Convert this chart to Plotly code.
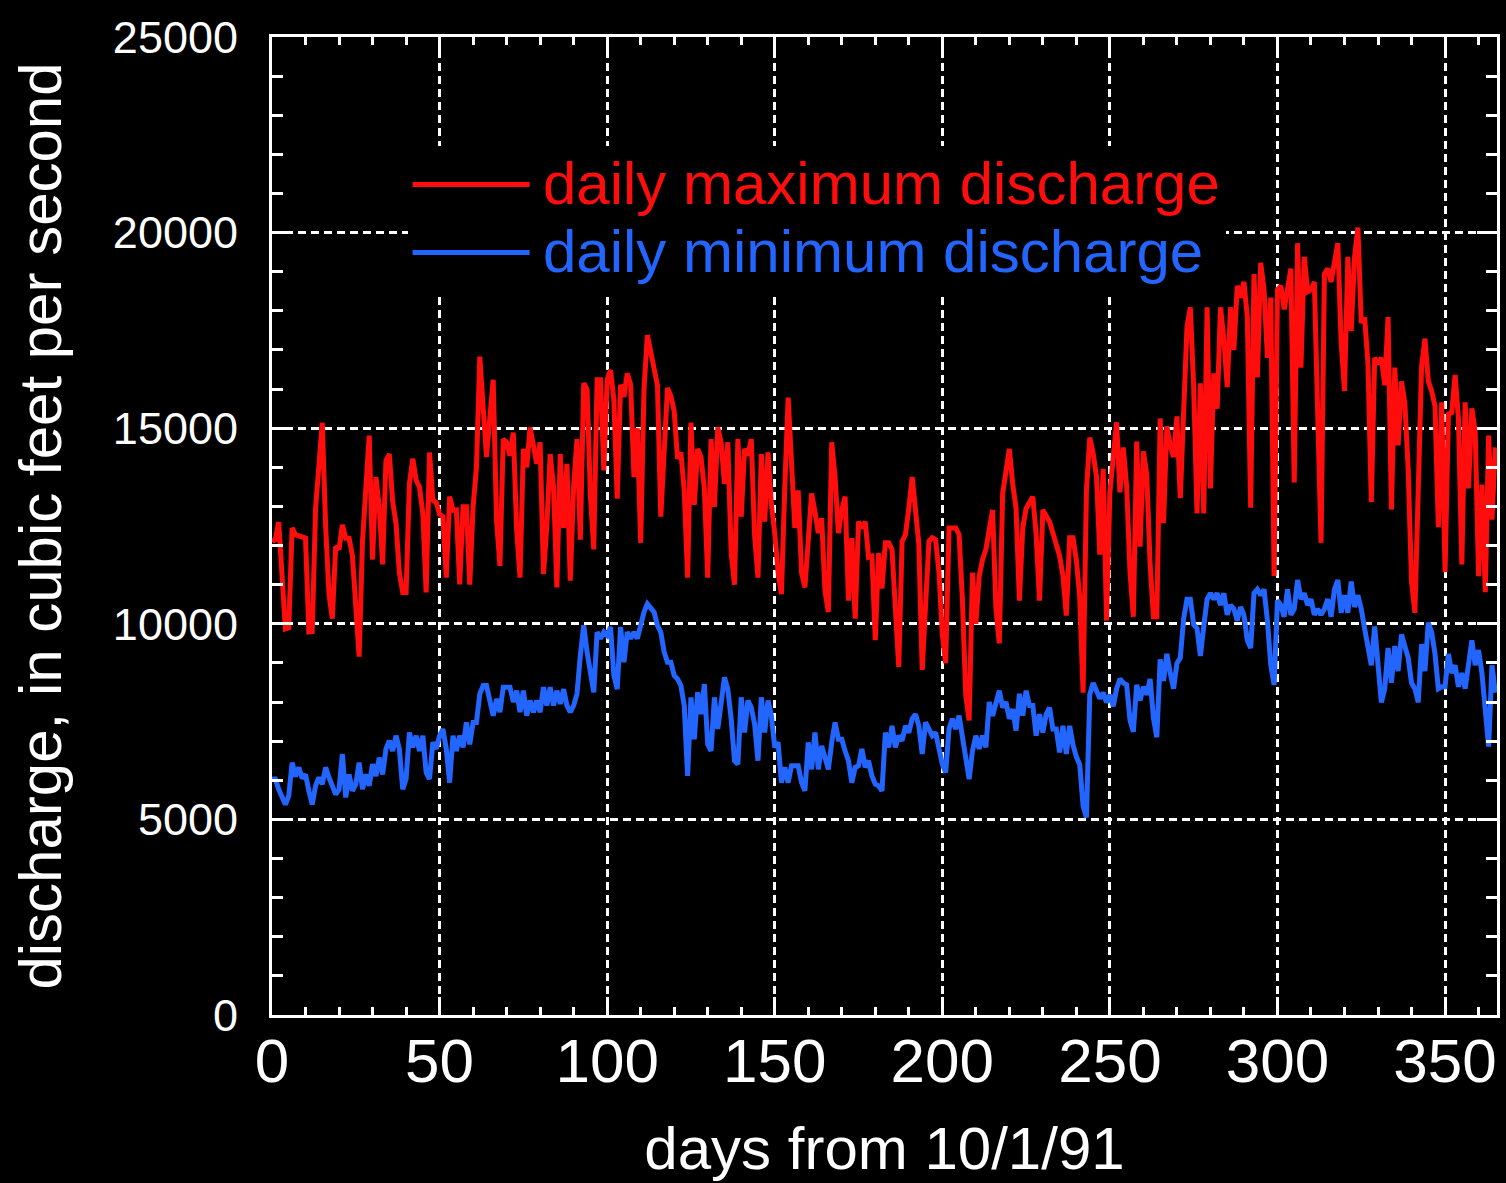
import plotly.graph_objects as go

# ---------------- data ----------------
days = list(range(366))

max_discharge = [
    12110, 12150, 12600, 11000, 9870, 9900, 12450, 12280, 12250, 12190,
    12190, 9790, 9800, 12950, 13920, 15140, 12500, 10760, 10130, 11980,
    11900, 12530, 12190, 12190, 11730, 10380, 9160, 12110, 13420, 14810,
    11640, 13750, 13000, 11520, 14170, 14340, 13120, 12570, 11310, 10800,
    10800, 13580, 14220, 13670, 13500, 12820, 10800, 14380, 13160, 13100,
    12800, 12740, 11180, 13250, 12900, 12910, 11010, 12990, 12990, 11000,
    12990, 14000, 16830, 15600, 14260, 15270, 16240, 12650, 11480, 14720,
    14640, 14300, 14890, 12400, 11180, 14470, 14000, 15020, 14600, 14090,
    14640, 11270, 12500, 14340, 13500, 10930, 14340, 12450, 14090, 11100,
    13500, 14720, 12150, 16150, 16000, 13290, 11900, 16240, 16240, 13920,
    16240, 16490, 15730, 13200, 16110, 15800, 16400, 16110, 13750, 15000,
    12070, 16000, 17380, 17000, 16500, 16100, 12740, 14550, 16030, 15820,
    15440, 14220, 14380, 13410, 11180, 15140, 13040, 14470, 14260, 13460,
    11180, 14720, 12990, 15020, 14640, 13580, 14640, 11810, 11000, 14720,
    12740, 14470, 14300, 14720, 12240, 11180, 14340, 12610, 14380, 13040,
    12320, 11310, 10760, 13500, 15780, 14130, 12450, 13410, 11310, 10930,
    12200, 13330, 12870, 12320, 12700, 10840, 10300, 14640, 13750, 12320,
    12910, 13250, 10590, 12190, 10130, 12610, 12450, 12610, 11700, 11730,
    9580, 11810, 10900, 12070, 12070, 11900, 10380, 8900, 12110, 12280,
    12950, 13750, 12910, 12030, 8820, 10380, 12110, 12200, 12150, 11310,
    9730, 8990, 12450, 12450, 12450, 12280, 10610, 8160, 7530, 11310,
    10000, 11220, 11640, 11900, 12360, 12910, 10380, 9500, 13330, 13840,
    14470, 13580, 12950, 10590, 12450, 12950, 13120, 13250, 12280, 10590,
    12910, 12740, 12610, 12320, 12070, 11730, 11220, 10210, 12200, 12200,
    11620, 10680, 8240, 13410, 14760, 14360, 13760, 11770, 13960, 10080,
    13360, 14360, 15150, 13360, 14510, 13510, 11320, 10180, 14660, 11970,
    14410, 13810, 11520, 10180, 10180, 15250, 12570, 15050, 14560, 14260,
    15300, 13210, 15850, 17590, 18090, 16050, 12820, 16150, 12820, 18090,
    13460, 16400, 15500, 18090, 17290, 16050, 18090, 17000, 18640, 18340,
    18740, 17840, 12970, 18940, 16300, 19230, 18540, 16800, 18340, 11220,
    18540, 18640, 18040, 18590, 19080, 13610, 19730, 16550, 19380, 18490,
    18540, 18740, 15130, 12070, 18940, 19080, 18740, 19330, 19730, 17190,
    15950, 19380, 17490, 19380, 20130, 17690, 17840, 16650, 13110, 16800,
    16650, 16800, 16100, 17840, 12920, 16550, 14560, 16200, 15650, 13960,
    11070, 10280, 14090, 16580, 17290, 16200, 15950, 15560, 12470, 15660,
    11320, 15360, 15400, 16360, 15230, 11520, 15660, 13460, 15510, 14910,
    11220, 13560, 10810, 14810, 12660, 14510,
]

min_discharge = [
    6030, 6030, 5770, 5560, 5380, 5600, 6450, 6100, 6330, 6050,
    6150, 5730, 5380, 5860, 6070, 5900, 6330, 6070, 5860, 5640,
    5770, 6670, 5560, 6150, 5730, 5900, 6450, 5770, 6150, 5860,
    6410, 6110, 6580, 6150, 6800, 7010, 6750, 7140, 6800, 5770,
    6030, 7220, 6840, 7140, 6750, 7140, 6200, 6030, 6970, 6800,
    7140, 7310, 6800, 5940, 7140, 6750, 7140, 6840, 7480, 6920,
    7480, 7480, 8210, 8420, 8420, 8080, 7650, 8080, 7740, 8380,
    8380, 8380, 8000, 8290, 7740, 8290, 7650, 8040, 7740, 8040,
    7740, 8380, 7910, 8380, 7910, 8290, 7950, 8330, 7910, 7740,
    7910, 8210, 9190, 9960, 9280, 8680, 8250, 9790, 9620, 9790,
    9700, 9920, 8680, 8330, 9920, 9020, 9790, 9620, 9790, 9620,
    9960, 10300, 10510, 10400, 10300, 9960, 9790, 9280, 9020, 9020,
    8680, 8590, 8420, 7910, 6110, 8120, 7050, 8250, 7690, 8460,
    6920, 6750, 8120, 7310, 8080, 8630, 8330, 7570, 6500, 6410,
    8120, 7220, 8040, 7860, 7430, 6500, 8120, 7220, 8040, 7650,
    6840, 6970, 5940, 6330, 5940, 6370, 6370, 6370, 5940, 5730,
    6970, 6280, 7220, 6280, 6880, 6620, 6280, 6970, 7480, 7050,
    7050, 6750, 6500, 5940, 6330, 6370, 6800, 6330, 6500, 6110,
    5900, 5860, 5730, 7220, 6840, 7390, 6840, 7140, 7010, 7390,
    7220, 7570, 7690, 7390, 6670, 7480, 7310, 7140, 7220, 6800,
    6410, 6200, 7310, 7570, 7310, 7650, 7140, 6580, 6030, 6750,
    7140, 6800, 7140, 6840, 8000, 7650, 8040, 8290, 7860, 8000,
    7570, 7820, 7270, 8210, 7650, 8290, 7910, 7910, 7140, 7690,
    7220, 7690, 7860, 7310, 7310, 6710, 7390, 6670, 7390, 6900,
    6600, 6400, 5350, 5050, 8190, 8490, 8290, 8090, 8240, 7990,
    8190, 7890, 8340, 8590, 8490, 8440, 7540, 7240, 8440, 8040,
    8390, 8190, 8590, 7590, 7100, 9090, 8540, 9230, 8740, 8340,
    8990, 9130, 10130, 10630, 10630, 9980, 9880, 9180, 9930, 10630,
    10780, 10630, 10780, 10480, 10780, 10230, 10480, 10380, 10080, 10430,
    10230, 9580, 9380, 10780, 10880, 10730, 10880, 10080, 8940, 8440,
    10600, 10480, 10180, 10880, 10230, 10380, 11120, 10630, 10780, 10480,
    10630, 10230, 10380, 10230, 10380, 10630, 10180, 10880, 11120, 10280,
    10730, 10280, 11080, 10430, 10730, 10380, 9880, 9380, 8940, 9930,
    8790, 7990, 8340, 9380, 8490, 9430, 8790, 9730, 9430, 9130,
    8490, 8340, 7990, 9480, 8790, 10030, 9780, 9230, 8340, 8390,
    8390, 9230, 8740, 8940, 8390, 8740, 8340, 9030, 9580, 8940,
    9330, 8740, 7840, 6860, 8940, 8240,
]

x_tick_vals = [0, 50, 100, 150, 200, 250, 300, 350]
x_tick_labels = ["0", "50", "100", "150", "200", "250", "300", "350"]
y_tick_vals = [0, 5000, 10000, 15000, 20000, 25000]
y_tick_labels = ["0", "5000", "10000", "15000", "20000", "25000"]

series_names = ["daily maximum discharge", "daily minimum discharge"]
series_colors = ["#ff0d0d", "#2266ff"]

assert len(max_discharge) == len(days) == len(min_discharge)

# ---------------- figure ----------------
FONT = "Liberation Sans, Arial, sans-serif"

fig = go.Figure()
for vals, name, color in zip([max_discharge, min_discharge], series_names, series_colors):
    fig.add_trace(go.Scatter(
        x=days, y=vals, mode="lines",
        name=(f'<span style="font-size:30px">&nbsp;</span>'
              f'<span style="color:{color};font-size:60px">{name}</span>'),
        line=dict(color=color, width=5),
    ))

axis_common = dict(
    showline=True, linecolor="white", linewidth=3, mirror="allticks",
    ticks="inside", tickcolor="white", tickwidth=3,
    showgrid=True, gridcolor="white", gridwidth=2.5, griddash="8px,5px",
    zeroline=False,
)

fig.update_layout(
    width=1506, height=1183,
    paper_bgcolor="black", plot_bgcolor="black",
    margin=dict(l=272, r=6, t=37, b=168),
    font=dict(family=FONT, color="white"),
    showlegend=True,
    legend=dict(
        x=0.1107, y=0.889, xanchor="left", yanchor="top",
        bgcolor="black", borderwidth=0,
        font=dict(family=FONT, size=50, color="white"),
        itemwidth=117, tracegroupgap=0,
    ),
    xaxis=dict(
        range=[0, 365.5],
        tickmode="array", tickvals=x_tick_vals, ticktext=x_tick_labels,
        ticklen=18,
        tickfont=dict(family=FONT, size=62, color="white"),
        ticklabelstandoff=-10,
        minor=dict(tick0=0, dtick=10, ticks="inside", ticklen=8,
                   tickwidth=3, tickcolor="white", showgrid=False),
        title=dict(text="days from 10/1/91",
                   font=dict(family=FONT, size=60, color="white"),
                   standoff=33),
        **axis_common,
    ),
    yaxis=dict(
        range=[0, 25000],
        tickmode="array", tickvals=y_tick_vals, ticktext=y_tick_labels,
        ticklen=20,
        tickfont=dict(family=FONT, size=45, color="white"),
        ticklabelstandoff=22,
        minor=dict(tick0=0, dtick=1000, ticks="inside", ticklen=11,
                   tickwidth=3, tickcolor="white", showgrid=False),
        title=dict(text="discharge, in cubic feet per second",
                   font=dict(family=FONT, size=60, color="white"),
                   standoff=32),
        **axis_common,
    ),
)

fig.write_html(
    "out.html",
    config={"displayModeBar": False},
    post_script="document.body.style.margin='0px';"
                "document.body.style.backgroundColor='black';",
)
